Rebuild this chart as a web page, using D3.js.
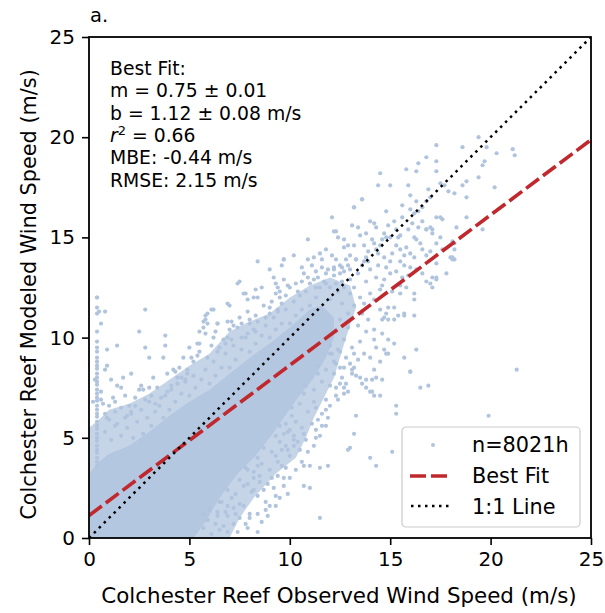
<!DOCTYPE html>
<html>
<head>
<meta charset="utf-8">
<script src="https://cdn.jsdelivr.net/npm/d3@7"></script>
<style>
  body { margin: 0; background: #fff; }
  svg text { font-family: "DejaVu Sans", sans-serif; fill: #000; }
</style>
</head>
<body>
<div id="chart"></div>
<script>
// ticks / labels
var xTicks = [0, 5, 10, 15, 20, 25];
var yTicks = [0, 5, 10, 15, 20, 25];
var xLabel = "Colchester Reef Observed Wind Speed (m/s)";
var yLabel = "Colchester Reef Modeled Wind Speed (m/s)";
var panelLabel = "a.";
var legendLabels = ["n=8021h", "Best Fit", "1:1 Line"];

// fit stats
var fitM = 0.75, fitB = 1.12;
var statsLines = ["Best Fit:", "m = 0.75 \u00b1 0.01", "b = 1.12 \u00b1 0.08 m/s", "R2", "MBE: -0.44 m/s", "RMSE: 2.15 m/s"];

// area where the hourly points overlap completely (obs, mod)
var coreOutline = [[0,0],[5.2,0],[5.8,0.8],[6.5,2],[7.4,3.2],[8.2,4],[9,5],[9.7,6],[10.4,7],[11.2,8],[11.8,9],[12.2,10],[12.2,11],
  [11.6,11.6],[11,11.4],[10,10.5],[9,9.7],[8,9],[7,8.2],[6,7.4],[5,6.8],[4,6.1],[3,5.3],[2,4.6],[1,4.2],[0.5,3.8],[0,3.2]];
// outer edge of the mostly-covered band around it
var haloOutline = [[0,0],[7,0],[7.5,1],[8.2,2],[9.3,3.2],[10.3,4],[10.8,5],[11.2,6],[12.2,8],[12.8,10],[13.3,11.5],[13,12.6],[12,13],
  [11,12.6],[10,12],[9,11.2],[8,10.8],[7,10.3],[6,9.2],[5,8.6],[4,7.9],[3,7.2],[2,6.7],[1,6.4],[0.6,6],[0,5.5]];

// individual points
var streakPts = [[0.4,3.6],[0.4,3.8],[0.4,4.0],[0.4,4.25],[0.4,4.4],[0.4,4.6],[0.4,4.85],[0.4,5.0],[0.4,5.2],[0.4,5.45],[0.4,5.6],
  [0.4,5.8],[0.4,6.05],[0.4,6.2],[0.4,6.4],[0.4,6.6],[0.4,6.85],[0.4,7.0],[0.4,7.2],[0.4,7.4],[0.4,7.65],[0.4,7.8],[0.4,8.0],
  [0.4,8.2],[0.4,8.45],[0.4,8.6],[0.4,8.8],[0.4,9.0],[0.4,9.3],[0.4,9.5],[0.4,9.8],[0.4,10.3],[0.4,11.2],[0.4,11.5],[0.4,12.0],
  [0.5,11.3],[0.6,10.7],[0.8,11.3]];

var upperFringe = [[1.1,4.9],[0.8,5.3],[1.3,5.6],[0.9,6.0],[1.6,5.1],[2.2,5.0],[1.9,5.5],[2.4,5.8],[2.1,6.2],[2.6,6.4],[1.8,6.0],
  [3.1,5.6],[2.9,6.0],[3.3,6.3],[3.0,6.8],[3.5,6.6],[2.7,5.2],[4.0,6.4],[4.3,6.8],[3.8,7.1],[4.1,7.4],[4.6,7.2],[3.7,6.0],
  [5.0,7.1],[5.3,7.5],[4.8,7.8],[5.2,8.1],[5.6,7.9],[4.9,8.4],[6.0,7.7],[6.3,8.1],[5.8,8.4],[6.2,8.8],[6.6,8.5],[5.9,9.0],
  [7.0,8.5],[7.3,8.9],[6.8,9.2],[7.2,9.6],[7.6,9.4],[6.9,10.0],[8.0,9.3],[8.3,9.7],[7.8,10.0],[8.2,10.4],[8.6,10.1],[8.0,10.7],
  [9.0,10.0],[9.3,10.4],[8.8,10.6],[9.2,11.0],[9.6,10.7],[9.4,11.3],[10.0,10.7],[10.3,11.1],[9.8,11.4],[10.2,11.8],[10.6,11.4],
  [10.5,12.1],[11.0,11.6],[11.3,12.0],[10.8,12.3],[11.5,12.5],[11.2,12.9],[12.0,11.9],[12.4,12.3],[11.8,12.7],[12.2,13.1],[12.6,12.8],
  [0.7,6.7],[1.0,6.6],[0.8,6.2],[1.3,6.3],[1.6,6.5],[2.0,6.6],[2.3,6.6],[1.0,5.9],[1.4,5.7],[1.9,6.1],[2.1,6.3],
  [2.8,6.9],[3.1,7.1],[3.3,6.7],[3.6,7.0],[3.9,7.3],[4.1,7.6],[4.4,7.7],[4.8,7.9],[4.9,8.2],
  [0.2,6.8],[0.6,7.3],[0.3,7.9],[1.2,7.0],[0.9,8.6],[1.7,8.0],
  [0.6,6.9],[1.3,6.8],[1.8,7.1],[2.3,7.0],[2.6,7.6],[3.4,7.5],[3.2,8.0],[3.9,8.2],[4.3,8.3],[4.6,8.0],[5.2,8.8],[5.5,9.3],
  [5.0,9.5],[6.1,9.6],[6.4,9.3],[6.7,9.9],[6.3,10.3],[7.2,10.6],[7.5,11.0],[7.9,11.3],[8.3,11.1],[8.7,11.6],[9.0,11.5],
  [9.5,12.3],[9.9,12.6],[10.4,12.3],[10.6,12.8],[11.4,13.0],[11.9,13.4],[12.5,13.2],[12.8,13.9],[13.4,13.2],[13.6,13.6],
  [14.0,13.4],[13.8,12.8],[14.5,12.4],[14.4,13.6],[13.9,14.3],[13.2,14.6],[14.1,14.9],[12.7,14.9],[11.6,13.9],[10.9,13.9]];

var lowerFringe = [[5.3,0.3],[5.7,0.5],[6.1,0.2],[6.5,0.4],[6.9,0.3],[5.9,0.9],[6.0,1.4],[6.4,1.1],[6.8,1.3],[7.2,1.5],[7.5,1.0],
  [6.6,1.8],[6.9,2.4],[7.3,2.2],[7.7,2.6],[8.1,2.3],[8.5,2.8],[7.5,2.9],[7.8,3.5],[8.2,3.3],[8.6,3.7],[9.0,3.4],[9.4,3.8],
  [8.4,4.0],[8.7,4.5],[9.1,4.3],[9.5,4.8],[9.9,4.4],[10.2,4.9],[9.3,5.1],[9.5,5.6],[9.9,5.3],[10.3,5.8],[10.6,5.5],[10.1,6.1],
  [10.1,6.5],[10.5,6.7],[10.9,6.3],[11.2,6.8],[10.7,7.2],[10.8,7.6],[11.2,7.4],[11.6,7.8],[12.0,7.6],[11.4,8.2],[11.4,8.6],
  [11.8,8.4],[12.2,8.8],[12.5,8.5],[12.0,9.2],[12.0,9.6],[12.4,9.4],[12.7,9.9],[12.3,10.3],[12.9,10.5],[12.5,10.9],[12.9,11.2],
  [13.2,11.6],[12.6,11.7],[13.0,12.2],
  [8.4,0.3],[7.2,0.7],[7.8,0.7],[6.7,0.6],[8.9,1.1],[9.0,1.6],[8.4,1.2],[9.3,1.6],[9.3,2.1],[8.8,1.8],[8.4,2.1],[9.7,2.6],
  [9.4,3.1],[9.8,3.5],[9.6,3.6],[8.9,2.7],[9.1,3.0],[8.5,3.1],[8.7,2.4],[8.2,2.4],[10.5,4.4],[10.8,4.9],[10.4,4.8],[10.2,4.6],
  [10.7,5.2],[11.1,5.7],[11.3,5.4],[11.6,5.6],[11.8,5.6],[11.3,5.0],[11.6,6.2],[11.8,6.4],[11.3,6.5],[11.8,6.9],[12.3,7.5],
  [12.5,7.7],[12.8,7.7],[12.7,7.2],[12.2,8.2],[12.7,8.5],[12.3,8.7],[12.1,9.2],[12.5,9.3],[6.0,1.5],[6.4,1.3],[5.7,1.2],
  [5.9,0.9],[6.3,0.7],[6.5,1.8],[6.9,1.6],[7.1,2.0],[7.5,1.7],[7.7,1.6],[7.3,1.2],[6.9,1.1],[8.0,1.2],[7.9,2.7],[8.2,3.0],
  [7.9,3.4],[8.4,3.6],[9.3,4.1],[9.6,4.4],[9.8,4.6],[10.0,4.1],[9.7,5.2],[10.0,5.4],[10.2,5.1],[9.8,5.7],
  [7.4,0.3],[7.9,0.5],[8.0,1.0],[8.6,0.8],[8.8,1.4],[9.5,2.0],[9.9,2.2],[9.2,2.5],[10.0,3.0],[10.3,3.4],[9.7,3.0],[10.6,3.8],
  [10.9,4.3],[11.2,4.6],[11.5,5.1],[11.4,5.9],[11.9,6.0],[12.0,6.6],[12.4,6.9],[12.9,7.3],[12.6,8.0],[13.1,8.4],[13.4,8.9],
  [13.1,9.5],[13.5,9.8],[13.8,10.3],[13.4,10.6],[13.9,10.9],[14.2,10.4],[13.6,11.2]];

var outerPts = [[19.4,20.0],[17.3,19.6],[18.6,19.5],[21.1,19.4],[21.2,19.1],[20.3,19.2],[19.8,19.5],[16.8,19.0],[17.3,18.8],
  [16.4,18.7],[19.7,18.8],[19.6,18.6],[15.8,18.4],[16.3,18.3],[17.3,18.3],[14.5,18.2],[19.4,18.0],[17.5,17.7],[17.7,17.6],
  [18.8,17.8],[14.4,17.6],[15.0,17.6],[18.6,17.6],[17.9,17.3],[18.2,17.2],[20.2,17.5],[16.0,17.1],[18.8,17.0],[13.6,16.9],
  [17.0,17.0],[16.8,16.8],[16.6,16.5],[16.4,16.3],[16.0,16.4],[16.2,16.2],[13.2,16.5],[18.8,16.0],[17.5,16.0],[17.6,15.9],
  [17.3,16.0],[12.1,16.0],[14.2,15.7],[14.3,15.5],[17.0,15.5],[17.1,15.4],[16.8,15.4],[13.4,15.5],[13.5,15.1],[18.3,15.5],
  [19.6,15.4],[12.3,15.3],[15.3,15.4],[15.5,15.1],[14.7,15.2],[14.8,15.0],[15.0,15.0],[16.2,15.0],[16.3,14.9],[16.5,14.7],
  [17.5,15.0],[17.3,14.7],[18.1,14.8],[18.2,14.7],[12.7,14.5],[12.9,14.6],[14.2,14.7],[14.5,14.6],[14.3,14.4],[15.3,14.6],
  [15.5,14.4],[15.8,14.5],[15.7,14.1],[16.6,14.4],[16.8,14.1],[17.0,14.3],[18.1,14.0],[18.1,13.9],[16.0,14.2],[16.2,14.0],
  [13.8,14.0],[13.9,13.8],[13.7,13.8],[14.7,14.0],[15.0,13.8],[14.8,13.5],[15.5,13.8],[15.7,13.6],[16.0,13.5],[17.3,13.7],
  [17.3,13.0],[12.3,13.9],[12.6,13.5],[12.2,13.4],[13.0,14.1],[13.3,13.9],
  [16.2,11.9],[16.8,12.8],[17.1,12.5],[15.5,12.2],[14.9,11.5],[15.2,11.5],[15.4,11.1],[15.7,11.2],[16.2,11.1],[14.5,11.4],
  [14.7,11.0],[14.9,10.9],[15.2,9.7],[16.3,9.4],[15.7,9.0],[16.0,8.3],[14.6,10.2],[14.9,9.9],[14.2,9.9],[14.3,9.5],[14.7,9.4],
  [14.9,9.2],[13.7,9.2],[14.0,9.0],[14.5,8.8],[14.2,8.4],[14.1,7.9],[14.3,8.0],[14.6,7.9],[13.5,8.0],[13.6,7.7],[13.8,7.5],
  [14.1,7.3],[14.5,7.1],[15.3,6.6],[15.3,6.2],[16.5,7.5],[16.9,7.6],[13.3,6.1],[19.9,6.1],[13.1,8.2],[13.2,8.5],[13.0,8.7],
  [12.7,7.5],[12.3,7.1],[21.3,8.4],[13.2,5.2],[12.9,4.4],[13.0,4.5],[15.1,4.3],[14.0,4.0],[14.3,3.6],[11.9,3.6],[11.5,3.5],
  [10.7,3.6],[11.0,3.6],[10.7,2.6],[11.0,2.5],[11.5,1.0],[14.2,7.1],[14.0,7.3],[13.3,8.1],[13.8,7.9],[12.8,9.0],[13.2,9.2],
  [14.8,9.2],[16.0,8.3],
  [0.4,12.0],[2.8,11.4],[2.5,10.3],[2.8,9.5],[3.8,10.1],[3.8,9.6],[1.4,9.6],[0.9,9.4],[3.0,9.0],[3.7,9.0],[0.8,8.4],[2.1,8.2],
  [1.1,7.9],[1.4,7.6],[1.6,7.5],[2.5,7.4],[2.7,7.4],[3.0,7.5],[4.2,8.4],[4.5,8.5],[4.7,9.0],[4.4,8.0],[5.1,9.0],[5.4,9.1],
  [5.5,9.7],[5.8,10.2],[5.9,10.7],[5.9,11.2],[6.2,11.4],[5.7,10.8],[6.4,10.7],[6.9,11.7],[7.4,12.7],[7.8,12.2],[8.4,12.0],
  [8.6,12.5],[8.4,13.8],[9.0,13.4],[9.7,13.9],[9.6,13.6],[7.5,12.8],[9.2,13.0],[9.3,12.7],[8.3,12.4],[7.7,12.2],[8.2,12.0],
  [7.9,11.9],[9.3,12.2],[9.5,12.0],[9.1,11.8],[9.6,11.7],[7.0,11.6],[6.1,11.4],[5.8,11.1],[5.8,10.9],[5.7,10.5],[6.4,10.7],
  [6.9,10.8],[7.1,10.8],[5.5,10.3],[5.4,9.7],[6.2,10.0],[7.0,10.4],[7.4,10.5],[7.6,10.7],[8.0,10.9],[8.4,10.8],[8.8,11.0],
  [9.0,11.2],[9.4,11.4],[6.8,9.7],[6.5,9.5],[7.1,9.9],[7.6,10.0],[7.9,10.2],[8.3,10.3],
  [10.9,14.9],[11.8,14.4],[12.1,14.1],[11.5,14.2],[9.7,13.9],[10.2,14.1],[11.2,14.0],[11.1,13.6],[10.6,13.5],[10.7,13.2],
  [10.9,13.0],[11.3,13.3],[11.6,13.5],[11.8,13.2],[12.2,13.5],[12.5,13.6],[12.7,13.3],[13.0,13.4],[9.7,12.9],[10.0,12.5],
  [10.3,12.7],[9.4,12.5],[9.8,12.1],[11.0,12.7],[11.3,12.5],[11.7,12.8],[12.0,12.5],[12.3,12.7],[12.7,12.5],[13.0,12.9],
  [13.2,12.5],[13.5,12.0],[13.7,11.7],[14.0,12.2],[14.2,11.9],[14.8,11.2],[15.2,10.9],[14.6,10.9],[15.7,11.1],[14.3,13.0],
  [14.7,12.9],[15.0,13.2],[15.3,13.3],[15.6,13.0],[15.9,13.1],[15.8,12.5],[16.2,12.2],[16.3,13.4],[16.6,13.2],[17.1,13.0],
  [17.3,12.9],[17.8,13.2],[18.0,14.0],[18.2,14.4],[17.6,14.4],[16.8,15.4],[16.4,15.5],[16.6,15.8],[17.1,15.2],[17.0,12.7],
  [18.2,13.9],[13.6,16.9],[13.2,16.5],[12.2,15.3],[12.4,15.0],
  [12.9,13.6],[13.3,13.9],[13.7,14.6],[14.4,14.2],[14.6,14.9],[15.1,14.2],[15.4,15.0],[15.9,15.4],[15.6,16.0],[16.1,15.7],
  [15.2,15.8],[14.8,16.3],[15.6,16.6],[16.3,16.8],[16.9,17.4],[15.9,17.6],[14.6,12.6],[15.1,12.3],[15.5,12.6],[13.8,15.2],
  [13.1,15.6],[14.0,15.8],[14.9,15.6]];

var W = 605, H = 613;
var margin = {top: 37, right: 14, bottom: 75, left: 89};
var width = W - margin.left - margin.right,
    height = H - margin.top - margin.bottom;

var svg = d3.select("#chart").append("svg")
    .attr("width", W)
    .attr("height", H);

var g = svg.append("g")
    .attr("transform", "translate(" + margin.left + "," + margin.top + ")");

var x = d3.scaleLinear().domain([0, 25]).range([0, width]);
var y = d3.scaleLinear().domain([0, 25]).range([height, 0]);

var ptColor = "#b0c4de", redColor = "#c0282d";

g.append("clipPath").attr("id", "clip")
  .append("rect").attr("width", width).attr("height", height);

var plot = g.append("g").attr("clip-path", "url(#clip)");

var area = d3.line().x(function(d){ return x(d[0]); }).y(function(d){ return y(d[1]); });

plot.append("path")
    .attr("d", area(haloOutline) + "Z")
    .attr("fill", ptColor)
    .attr("fill-opacity", 0.72);

plot.append("path")
    .attr("d", area(coreOutline) + "Z")
    .attr("fill", "#b4c7e0");

var allPts = streakPts.concat(upperFringe, lowerFringe, outerPts);
plot.selectAll(".pt")
    .data(allPts)
  .enter().append("circle")
    .attr("class", "pt")
    .attr("cx", function(d){ return x(d[0]); })
    .attr("cy", function(d){ return y(d[1]); })
    .attr("r", 2.1)
    .attr("fill", ptColor);

// best fit + 1:1
var fitPts = [[0, fitB], [25, fitB + fitM * 25]];
plot.append("path")
    .attr("d", area(fitPts))
    .attr("stroke", redColor)
    .attr("stroke-width", 3.6)
    .attr("stroke-dasharray", "16,5")
    .attr("fill", "none");

plot.append("path")
    .attr("d", area([[0, 0], [25, 25]]))
    .attr("stroke", "#000")
    .attr("stroke-width", 2.5)
    .attr("stroke-dasharray", "2.5,4.5")
    .attr("fill", "none");

// axes
var xAxis = g.append("g")
    .attr("transform", "translate(0," + height + ")")
    .call(d3.axisBottom(x).tickValues(xTicks).tickSize(7).tickPadding(7).tickFormat(d3.format("d")));
var yAxis = g.append("g")
    .call(d3.axisLeft(y).tickValues(yTicks).tickSize(7).tickPadding(7).tickFormat(d3.format("d")));
[xAxis, yAxis].forEach(function(a){
  a.select(".domain").remove();
  a.selectAll("line").attr("stroke", "#000").attr("stroke-width", 1.6);
  a.selectAll("text").style("font-size", "20px").style("font-family", "DejaVu Sans");
});

g.append("rect")
    .attr("width", width).attr("height", height)
    .attr("fill", "none").attr("stroke", "#000").attr("stroke-width", 1.8);

// labels
svg.append("text")
    .attr("x", margin.left + width / 2 - 1).attr("y", 603)
    .attr("text-anchor", "middle")
    .style("font-size", "21.4px")
    .text(xLabel);

svg.append("text")
    .attr("transform", "translate(36," + (margin.top + height / 2 + 7) + ") rotate(-90)")
    .attr("text-anchor", "middle")
    .style("font-size", "20.8px")
    .text(yLabel);

svg.append("text")
    .attr("x", 90).attr("y", 22)
    .style("font-size", "19.5px")
    .text(panelLabel);

// stats block
var stats = svg.append("text").style("font-size", "18.8px");
statsLines.forEach(function(s, i){
  var t = stats.append("tspan").attr("x", 110).attr("y", 75 + i * 22.3);
  if (s == "R2") {
    t.append("tspan").style("font-style", "italic").text("r");
    t.append("tspan").attr("dy", -7).style("font-size", "13px").text("2");
    t.append("tspan").attr("dy", 7).text(" = 0.66");
  } else {
    t.text(s);
  }
});

// legend
var leg = svg.append("g").attr("transform", "translate(402,427)");
leg.append("rect")
    .attr("width", 178).attr("height", 100).attr("rx", 4)
    .attr("fill", "#fff").attr("fill-opacity", 0.8)
    .attr("stroke", "#cccccc").attr("stroke-width", 1.2);
leg.append("circle").attr("cx", 31).attr("cy", 18).attr("r", 2).attr("fill", ptColor);
leg.append("line").attr("x1", 8).attr("x2", 47).attr("y1", 49).attr("y2", 49)
    .attr("stroke", redColor).attr("stroke-width", 3.6).attr("stroke-dasharray", "16,5");
leg.append("line").attr("x1", 9).attr("x2", 47).attr("y1", 79).attr("y2", 79)
    .attr("stroke", "#000").attr("stroke-width", 2.5).attr("stroke-dasharray", "2.5,4.5");
legendLabels.forEach(function(s, i){
  leg.append("text")
      .attr("x", 70).attr("y", 25 + i * 31)
      .style("font-size", "20.8px")
      .text(s);
});
</script>
</body>
</html>
